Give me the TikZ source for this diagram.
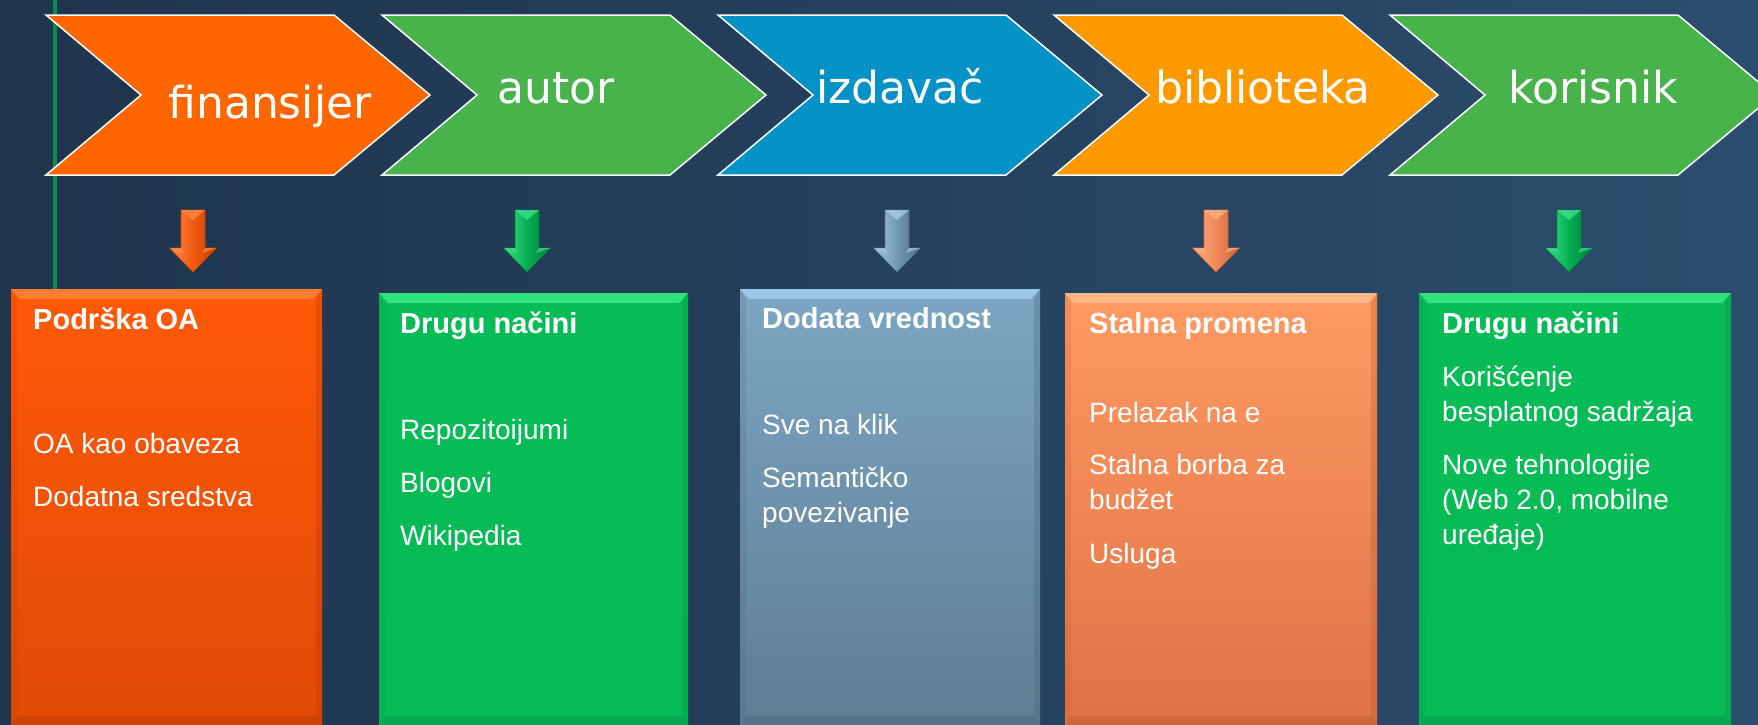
\documentclass[tikz,border=0pt]{standalone}
\usepackage{fontspec}
\setmainfont{Liberation Sans}
\newfontfamily\chevfont{DejaVu Sans}
\definecolor{bgL}{HTML}{1F344D}
\definecolor{bgR}{HTML}{2B4D6D}
\definecolor{chA}{HTML}{FF6600}
\definecolor{chB}{HTML}{47B34A}
\definecolor{chC}{HTML}{0592C6}
\definecolor{chD}{HTML}{FF9900}
\definecolor{lineG}{HTML}{0B8F48}
% box 1 orange
\definecolor{oTop}{HTML}{FF5A08}\definecolor{oBot}{HTML}{E04A06}\definecolor{oLt}{HTML}{FF8A40}\definecolor{oDk}{HTML}{B83800}
% green boxes
\definecolor{gTop}{HTML}{07BC56}\definecolor{gBot}{HTML}{06BA55}\definecolor{gLt}{HTML}{40EE88}\definecolor{gDk}{HTML}{04904A}
% blue-grey
\definecolor{bTop}{HTML}{7CA6C4}\definecolor{bBot}{HTML}{5F7D93}\definecolor{bLt}{HTML}{A8D4F4}\definecolor{bDk}{HTML}{46667C}
% light orange
\definecolor{lTop}{HTML}{FF9A62}\definecolor{lBot}{HTML}{DF7246}\definecolor{lLt}{HTML}{FFC296}\definecolor{lDk}{HTML}{B85830}
% arrows
\definecolor{aoLt}{HTML}{FF8A4A}\definecolor{aoMd}{HTML}{F25A10}\definecolor{aoDk}{HTML}{C84000}
\definecolor{agLt}{HTML}{3CE08A}\definecolor{agMd}{HTML}{06AE52}\definecolor{agDk}{HTML}{02803C}
\definecolor{abLt}{HTML}{A6CAE4}\definecolor{abMd}{HTML}{7298B6}\definecolor{abDk}{HTML}{4A6E88}
\definecolor{alLt}{HTML}{FFB080}\definecolor{alMd}{HTML}{F2885A}\definecolor{alDk}{HTML}{C86438}

\newcommand\chevronshape[2]{%
  \fill[#2, draw=white, line width=1.5pt, line join=miter]
    (#1,15) -- (#1+288,15) -- (#1+384,95) -- (#1+288,175) -- (#1,175) -- (#1+95,95) -- cycle;}
\newcommand\downblock[4]{%
  \shade[left color=#2, right color=#4, middle color=#3, draw=#4, line width=0.6pt]
    (#1-12,210) -- (#1+12,210) -- (#1+12,248) -- (#1+23.5,248) -- (#1,272)
    -- (#1-23.5,248) -- (#1-12,248) -- cycle;
  \fill[#2, opacity=0.8] (#1-12,210) -- (#1+12,210) -- (#1,220) -- cycle;
  \fill[#2, opacity=0.7] (#1-23.5,248) -- (#1-12,248) -- (#1-9,253) -- cycle;
  \fill[#2, opacity=0.7] (#1+23.5,248) -- (#1+12,248) -- (#1+9,253) -- cycle;}
\newcommand\panelbox[7]{%
  \shade[top color=#4, bottom color=#5] (#1,#2) rectangle (#3,726);
  \fill[#6, opacity=0.75] (#1,#2) -- (#3,#2) -- (#3-9,#2+10) -- (#1+9,#2+10) -- cycle;
  \fill[#7, opacity=0.30] (#3,#2) -- (#3,726) -- (#3-6,716) -- (#3-6,#2+10) -- cycle;
  \fill[#7, opacity=0.18] (#1,#2) -- (#1+6,#2+10) -- (#1+6,716) -- (#1,726) -- cycle;
  \fill[#7, opacity=0.40] (#1,726) -- (#3,726) -- (#3-6,716) -- (#1+6,716) -- cycle;}

\begin{document}
\begin{tikzpicture}[x=1pt,y=-1pt,
  chevlabel/.style={text=white, font=\chevfont\fontsize{44}{52}\selectfont, anchor=base, inner sep=0pt},
  boxtitle/.style={text=white, font=\bfseries\fontsize{29}{35}\selectfont, anchor=base west, inner sep=0pt},
  boxline/.style={text=white, font=\fontsize{28}{34}\selectfont, anchor=base west, inner sep=0pt}]
\useasboundingbox (0,0) rectangle (1758,724);
\clip (0,0) rectangle (1758,724);
\shade[left color=bgL, right color=bgR] (0,0) rectangle (1758,724);

% green vertical line
\draw[lineG, line width=4pt] (55,0) -- (55,289);

% chevrons
\chevronshape{46}{chA}
\chevronshape{382}{chB}
\chevronshape{718}{chC}
\chevronshape{1054}{chD}
\chevronshape{1390}{chB}

\node[chevlabel] (finansijer) at (270,118) {finansijer};
\node[chevlabel] (autor) at (556,103) {autor};
\node[chevlabel] (izdavac) at (900,103) {izdavač};
\node[chevlabel] (biblioteka) at (1263,103) {biblioteka};
\node[chevlabel] (korisnik) at (1593,103) {korisnik};

% down arrows
\downblock{193}{aoLt}{aoMd}{aoDk}
\downblock{527}{agLt}{agMd}{agDk}
\downblock{897}{abLt}{abMd}{abDk}
\downblock{1216}{alLt}{alMd}{alDk}
\downblock{1569}{agLt}{agMd}{agDk}

% boxes
\panelbox{11}{289}{322}{oTop}{oBot}{oLt}{oDk}
\panelbox{379}{293}{688}{gTop}{gBot}{gLt}{gDk}
\panelbox{740}{289}{1040}{bTop}{bBot}{bLt}{bDk}
\panelbox{1065}{293}{1377}{lTop}{lBot}{lLt}{lDk}
\panelbox{1419}{293}{1731}{gTop}{gBot}{gLt}{gDk}

% box 1
\node[boxtitle] (t1) at (33,329) {Podrška OA};
\node[boxline] (t1a) at (33,453) {OA kao obaveza};
\node[boxline] (t1b) at (33,506) {Dodatna sredstva};
% box 2
\node[boxtitle] (t2) at (400,333) {Drugu načini};
\node[boxline] (t2a) at (400,439) {Repozitoijumi};
\node[boxline] (t2b) at (400,492) {Blogovi};
\node[boxline] (t2c) at (400,545) {Wikipedia};
% box 3
\node[boxtitle] (t3) at (762,328) {Dodata vrednost};
\node[boxline] (t3a) at (762,434) {Sve na klik};
\node[boxline] (t3b) at (762,487) {Semantičko};
\node[boxline] (t3c) at (762,522) {povezivanje};
% box 4
\node[boxtitle] (t4) at (1089,333) {Stalna promena};
\node[boxline] (t4a) at (1089,422) {Prelazak na e};
\node[boxline] (t4b) at (1089,474) {Stalna borba za};
\node[boxline] (t4c) at (1089,509) {budžet};
\node[boxline] (t4d) at (1089,563) {Usluga};
% box 5
\node[boxtitle] (t5) at (1442,333) {Drugu načini};
\node[boxline] (t5a) at (1442,386) {Korišćenje};
\node[boxline] (t5b) at (1442,421) {besplatnog sadržaja};
\node[boxline] (t5c) at (1442,474) {Nove tehnologije};
\node[boxline] (t5d) at (1442,509) {(Web 2.0, mobilne};
\node[boxline] (t5e) at (1442,544) {uređaje)};
\end{tikzpicture}
\end{document}
